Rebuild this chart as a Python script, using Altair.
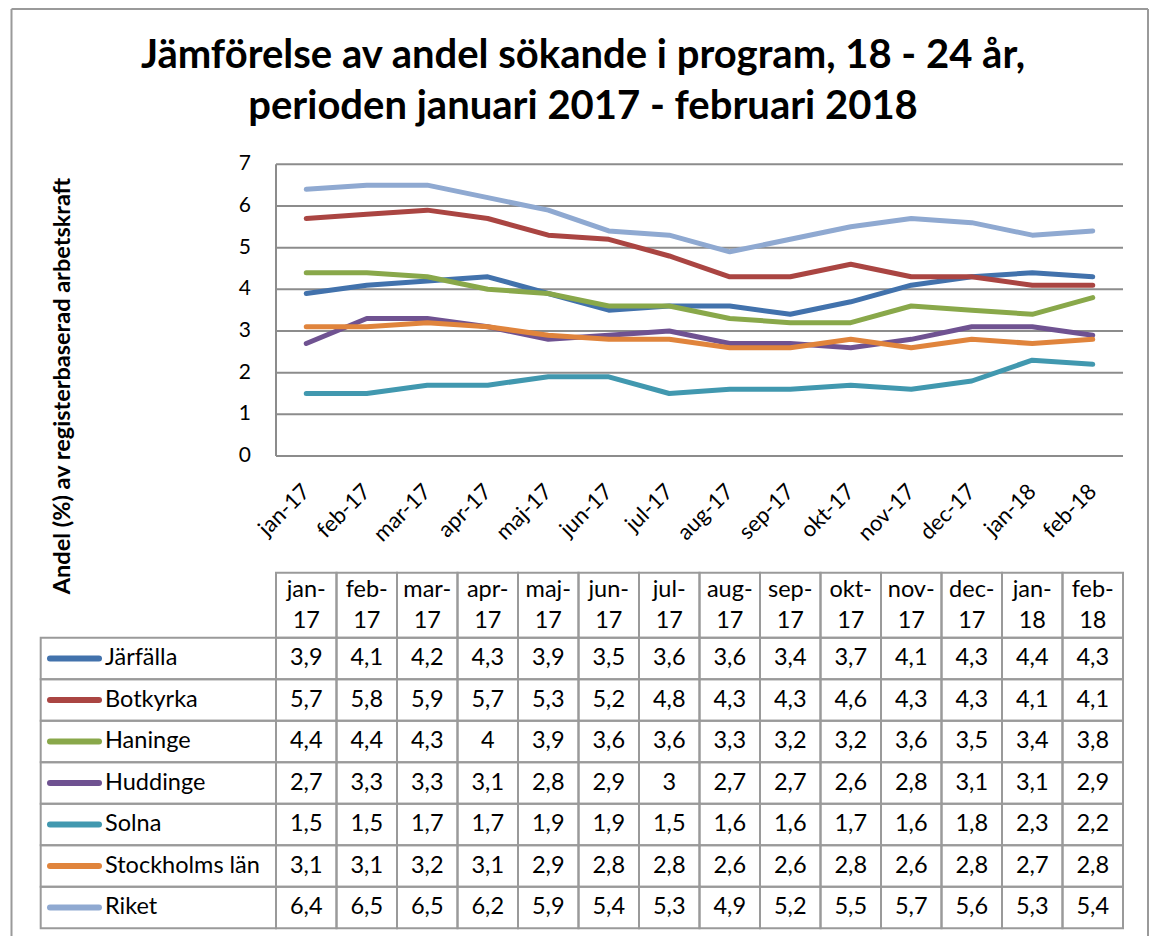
import altair as alt
import pandas as pd

# ---------------- data ----------------
months = ["jan-17", "feb-17", "mar-17", "apr-17", "maj-17", "jun-17", "jul-17",
          "aug-17", "sep-17", "okt-17", "nov-17", "dec-17", "jan-18", "feb-18"]
series = ["Järfälla", "Botkyrka", "Haninge", "Huddinge", "Solna", "Stockholms län", "Riket"]
colors = ["#4272AC", "#AA4542", "#89A84A", "#6F5291", "#4198AF", "#E0843C", "#8FA9D1"]

jarfalla = [3.9, 4.1, 4.2, 4.3, 3.9, 3.5, 3.6, 3.6, 3.4, 3.7, 4.1, 4.3, 4.4, 4.3]
botkyrka = [5.7, 5.8, 5.9, 5.7, 5.3, 5.2, 4.8, 4.3, 4.3, 4.6, 4.3, 4.3, 4.1, 4.1]
haninge = [4.4, 4.4, 4.3, 4.0, 3.9, 3.6, 3.6, 3.3, 3.2, 3.2, 3.6, 3.5, 3.4, 3.8]
huddinge = [2.7, 3.3, 3.3, 3.1, 2.8, 2.9, 3.0, 2.7, 2.7, 2.6, 2.8, 3.1, 3.1, 2.9]
solna = [1.5, 1.5, 1.7, 1.7, 1.9, 1.9, 1.5, 1.6, 1.6, 1.7, 1.6, 1.8, 2.3, 2.2]
stockholms_lan = [3.1, 3.1, 3.2, 3.1, 2.9, 2.8, 2.8, 2.6, 2.6, 2.8, 2.6, 2.8, 2.7, 2.8]
riket = [6.4, 6.5, 6.5, 6.2, 5.9, 5.4, 5.3, 4.9, 5.2, 5.5, 5.7, 5.6, 5.3, 5.4]

y_ticks = [0, 1, 2, 3, 4, 5, 6, 7]
title_lines = ["Jämförelse av andel sökande i program, 18 - 24 år,",
               "perioden januari 2017 - februari 2018"]
y_title = "Andel (%) av registerbaserad arbetskraft"

values = [jarfalla, botkyrka, haninge, huddinge, solna, stockholms_lan, riket]

# ---------------- layout ----------------
FONT = "Lato"
W, H = 1141, 928            # view size (page origin at 8,8)
OX, OY = 8, 8               # page position of view origin
COL = 60.5                  # px per month column
UNIT = 41.67                # px per y unit
PX0, PY0 = 276, 456         # page pixel of x=0 / y=0
GRID = "#8C8C8C"
BORDER = "#9A9A9A"
TABLE_FS = 23.5

x_dom = [(OX - PX0) / COL, (OX + W - PX0) / COL]
y_dom = [(PY0 - (OY + H)) / UNIT, (PY0 - OY) / UNIT]
xs = alt.Scale(domain=x_dom, nice=False, zero=False)
ys = alt.Scale(domain=y_dom, nice=False, zero=False)


def yu(py):
    return (PY0 - py) / UNIT


def X(field=None, **kw):
    if field is None:
        return alt.X(type="quantitative", scale=xs, axis=None, **kw)
    return alt.X(field, type="quantitative", scale=xs, axis=None, **kw)


def Y(field=None, **kw):
    if field is None:
        return alt.Y(type="quantitative", scale=ys, axis=None, **kw)
    return alt.Y(field, type="quantitative", scale=ys, axis=None, **kw)


legend_left = (40.7 - PX0) / COL
hdr_top, hdr_bot = yu(572.7), yu(637.7)
row_h = 41.5 / UNIT

color_enc = alt.Color("s:N", scale=alt.Scale(domain=series, range=colors), legend=None)

# ---------------- tables ----------------
line_rows, cell_rows, leg_rows = [], [], []
for i, (s, vals) in enumerate(zip(series, values)):
    top = hdr_bot - i * row_h
    bot = top - row_h
    leg_rows.append(dict(s=s, x=legend_left, x2=0, y=top, y2=bot, yc=(top + bot) / 2, order=i))
    for j, v in enumerate(vals):
        line_rows.append(dict(s=s, x=j + 0.5, v=v, order=i))
        cell_rows.append(dict(s=s, x=j, x2=j + 1, xc=j + 0.5, y=top, y2=bot,
                              yc=(top + bot) / 2, lab=f"{v:g}".replace(".", ",")))
df_lines = pd.DataFrame(line_rows)
df_cells = pd.DataFrame(cell_rows)
df_leg = pd.DataFrame(leg_rows)
df_months = pd.DataFrame(dict(m=months, x=[j + 0.5 for j in range(len(months))],
                              x0=list(range(len(months))),
                              x1=[j + 1 for j in range(len(months))],
                              y=hdr_top, y2=hdr_bot,
                              hdr=[m.replace("-", "-\n") for m in months]))
df_ticks = pd.DataFrame(dict(v=y_ticks, lab=[str(t) for t in y_ticks]))
one = pd.DataFrame(dict(a=[0]))

# ---------------- layers ----------------
grid = alt.Chart(df_ticks).mark_rule(color=GRID, strokeWidth=2).encode(
    y=Y("v"), x=X(datum=0), x2=alt.X2(datum=len(months)))
axis_line = alt.Chart(one).mark_rule(color=GRID, strokeWidth=2).encode(
    x=X(datum=0), y=Y(datum=0), y2=alt.Y2(datum=7))
tick_labels = alt.Chart(df_ticks).mark_text(
    align="right", baseline="middle", dx=-25, fontSize=21, font=FONT, color="#000").encode(
    x=X(datum=0), y=Y("v"), text="lab:N")
x_labels = alt.Chart(df_months).mark_text(
    angle=315, align="right", baseline="middle", fontSize=22, font=FONT, color="#000").encode(
    x=X("x"), y=alt.value(488 - OY), text="m:N")
lines = alt.Chart(df_lines).mark_line(strokeWidth=5, strokeCap="round", strokeJoin="round").encode(
    x=X("x"), y=Y("v"), color=color_enc, order="x:Q")

hdr_cells = alt.Chart(df_months).mark_rect(fillOpacity=0, stroke=BORDER, strokeWidth=2).encode(
    x=X("x0"), x2="x1", y=Y("y"), y2="y2")
hdr_text = alt.Chart(df_months).mark_text(
    align="center", baseline="alphabetic", lineBreak="\n", lineHeight=31,
    fontSize=TABLE_FS, font=FONT, color="#000").encode(
    x=X("x"), y=alt.value(597 - OY), text="hdr:N")
body_cells = alt.Chart(df_cells).mark_rect(fillOpacity=0, stroke=BORDER, strokeWidth=2).encode(
    x=X("x"), x2="x2", y=Y("y"), y2="y2")
body_text = alt.Chart(df_cells).mark_text(
    align="center", baseline="middle", fontSize=TABLE_FS, font=FONT, color="#000").encode(
    x=X("xc"), y=Y("yc"), text="lab:N")
leg_cells = alt.Chart(df_leg).mark_rect(fillOpacity=0, stroke=BORDER, strokeWidth=2).encode(
    x=X("x"), x2="x2", y=Y("y"), y2="y2")
leg_swatch = alt.Chart(df_leg).mark_rule(strokeWidth=6, strokeCap="round").encode(
    x=alt.value(50 - OX), x2=alt.value(99 - OX), y=Y("yc"), color=color_enc)
leg_text = alt.Chart(df_leg).mark_text(
    align="left", baseline="middle", fontSize=TABLE_FS, font=FONT, color="#000").encode(
    x=alt.value(105 - OX), y=Y("yc"), text="s:N")

title = alt.Chart(pd.DataFrame(dict(t=["\n".join(title_lines)]))).mark_text(
    align="center", baseline="alphabetic", lineBreak="\n", lineHeight=51,
    fontSize=40, fontWeight="bold", font=FONT, color="#000").encode(
    x=alt.value(583 - OX), y=alt.value(68 - OY), text="t:N")
ytitle = alt.Chart(pd.DataFrame(dict(t=[y_title]))).mark_text(
    angle=270, align="center", baseline="middle", fontSize=23.5, fontWeight="bold",
    font=FONT, color="#000").encode(
    x=alt.value(63 - OX), y=alt.value(386 - OY), text="t:N")

frame_l = alt.Chart(one).mark_rule(color=BORDER, strokeWidth=2).encode(
    x=alt.value(11.5 - OX), y=alt.value(1), y2=alt.value(H))
frame_t = alt.Chart(one).mark_rule(color=BORDER, strokeWidth=2).encode(
    x=alt.value(11.5 - OX), x2=alt.value(W - 1), y=alt.value(1))
frame_r = alt.Chart(one).mark_rule(color=BORDER, strokeWidth=2).encode(
    x=alt.value(W - 1), y=alt.value(1), y2=alt.value(H))

chart = alt.layer(
    grid, axis_line, tick_labels, x_labels, lines,
    hdr_cells, hdr_text, body_cells, body_text, leg_cells, leg_swatch, leg_text,
    title, ytitle, frame_l, frame_t, frame_r,
).properties(
    width=W, height=H,
    autosize=alt.AutoSizeParams(type="none"),
    padding={"left": 0, "top": 0, "right": 0, "bottom": 0},
    background="white",
).configure_view(stroke=None)

chart.save("out.html", embed_options={"renderer": "svg", "actions": False})
